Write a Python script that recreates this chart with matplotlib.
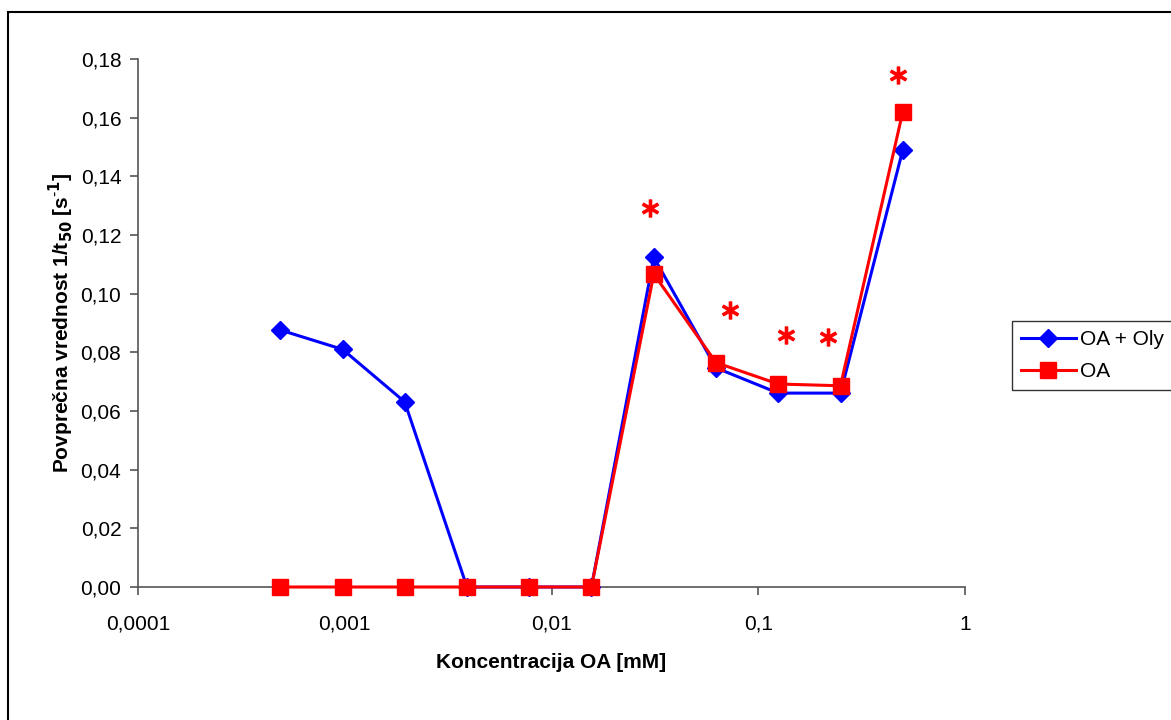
import matplotlib
matplotlib.use("Agg")
import matplotlib.pyplot as plt
from matplotlib.patches import Rectangle
from matplotlib.ticker import FixedLocator, FixedFormatter, NullLocator

plt.rcParams['font.family'] = ['Liberation Sans', 'DejaVu Sans']

# Concentrations of OA [mM] (two-fold dilution series)
conc = [0.000488, 0.000977, 0.00195, 0.0039, 0.0078, 0.0156,
        0.03125, 0.0625, 0.125, 0.25, 0.5]
oa_oly = [0.0876, 0.0810, 0.0631, 0.0, 0.0, 0.0,
          0.1124, 0.0747, 0.0661, 0.0661, 0.1490]
oa = [0.0, 0.0, 0.0, 0.0, 0.0, 0.0,
      0.1067, 0.0765, 0.0692, 0.0686, 0.1620]

# Significance marks
star_x = [0.0299, 0.0729, 0.136, 0.217, 0.474]
star_y = [0.1292, 0.0944, 0.0859, 0.0852, 0.1746]

x_ticks = [0.0001, 0.001, 0.01, 0.1, 1]
x_labels = ['0,0001', '0,001', '0,01', '0,1', '1']
y_ticks = [0.00, 0.02, 0.04, 0.06, 0.08, 0.10, 0.12, 0.14, 0.16, 0.18]
y_labels = ['0,00', '0,02', '0,04', '0,06', '0,08', '0,10', '0,12', '0,14', '0,16', '0,18']

FS = 15
W, H = 1171, 720
fig = plt.figure(figsize=(W / 100, H / 100), dpi=100)
fig.patch.set_facecolor('white')

# Outer chart frame
fig.patches.append(Rectangle((8 / W, -0.1), 1.2, 1.1 - 12 / H,
                             transform=fig.transFigure, fill=False,
                             edgecolor='black', linewidth=1.5))

ax = fig.add_axes([138 / W, 1 - 587 / H, (965 - 138) / W, (587 - 59) / H])

ax.plot(conc, oa_oly, color='#0000FF', linewidth=2.2, marker='D',
        markersize=9, markerfacecolor='#0000FF', markeredgecolor='#0000FF',
        label='OA + Oly', zorder=3, clip_on=False)
ax.plot(conc, oa, color='#FF0000', linewidth=2.2, marker='s',
        markersize=11, markerfacecolor='#FF0000', markeredgecolor='#FF0000',
        label='OA', zorder=4, clip_on=False)

ax.scatter(star_x, star_y, marker=r'$\ast$', s=150, color='#FF0000',
           linewidths=1.0, zorder=5)

ax.set_xscale('log')
ax.set_xlim(0.0001, 1)
ax.set_ylim(0, 0.18)

ax.xaxis.set_major_locator(FixedLocator(x_ticks))
ax.xaxis.set_major_formatter(FixedFormatter(x_labels))
ax.xaxis.set_minor_locator(NullLocator())
ax.yaxis.set_major_locator(FixedLocator(y_ticks))
ax.yaxis.set_major_formatter(FixedFormatter(y_labels))

for side in ('top', 'right'):
    ax.spines[side].set_visible(False)
for side in ('left', 'bottom'):
    ax.spines[side].set_color('#555555')
    ax.spines[side].set_linewidth(1.2)

ax.tick_params(axis='both', direction='out', length=6, width=1.2,
               color='#555555', labelsize=FS, labelcolor='black')
ax.tick_params(axis='x', pad=14)
ax.tick_params(axis='y', pad=6)

ax.set_xlabel('Koncentracija OA [mM]', fontsize=FS, fontweight='bold', labelpad=14)
ax.set_ylabel(r'Povprečna vrednost 1/t$_{\mathbf{50}}$ [s$^{\mathbf{\text{-}1}}$]',
              fontsize=FS, fontweight='bold', labelpad=3)

leg = fig.legend(loc='upper left', bbox_to_anchor=(1012 / W, 1 - 321 / H),
                 frameon=True, fancybox=False, fontsize=FS,
                 handlelength=2.6, borderpad=0.45, labelspacing=0.6,
                 handletextpad=0.2, borderaxespad=0)
leg.get_frame().set_edgecolor('black')
leg.get_frame().set_linewidth(1.0)

fig.savefig('out.png', dpi=100)
